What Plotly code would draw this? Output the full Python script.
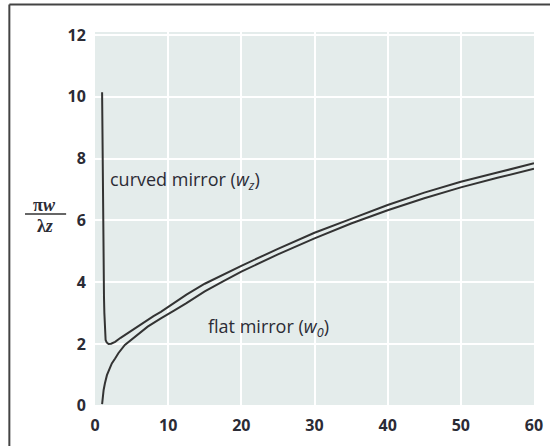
import plotly.graph_objects as go

# Curved mirror (w_z) readings
curved_x = [0.97, 1.0, 1.03, 1.07, 1.1, 1.13, 1.18, 1.23, 1.28, 1.32, 1.37, 1.45, 1.6, 1.85, 2.2, 2.75,
            3.5, 4.5, 5.5, 6.75, 8, 9, 10, 12.5, 15, 17.5, 20, 25, 30, 35, 40, 45, 50, 55, 60]
curved_y = [10.15, 9.0, 8.0, 7.0, 6.0, 5.0, 4.2, 3.5, 3.0, 2.6, 2.3, 2.13, 2.05, 2.0, 2.01, 2.07,
            2.2, 2.36, 2.52, 2.72, 2.9, 3.04, 3.2, 3.6, 3.95, 4.25, 4.53, 5.08, 5.6, 6.05, 6.5, 6.9, 7.25, 7.55, 7.85]

# Flat mirror (w_0) readings
flat_x = [0.97, 1.05, 1.18, 1.35, 1.63, 2.0, 2.3, 2.75, 3.19, 4.08, 5.42, 7.2, 9, 10, 10.8,
          12.5, 15, 17.5, 20, 25, 30, 35, 40, 45, 50, 55, 60]
flat_y = [0.05, 0.25, 0.51, 0.72, 0.99, 1.2, 1.37, 1.53, 1.70, 1.97, 2.23, 2.56, 2.83, 2.96, 3.08,
          3.32, 3.7, 4.03, 4.34, 4.9, 5.42, 5.9, 6.33, 6.72, 7.07, 7.38, 7.67]

x_ticks = [0, 10, 20, 30, 40, 50, 60]
y_ticks = [0, 2, 4, 6, 8, 10, 12]

label_curved = "curved mirror (<i>w<sub>z</sub></i>)"
label_flat = "flat mirror (<i>w<sub>0</sub></i>)"

line_color = "#333333"
text_color = "#2b2b35"

fig = go.Figure()
fig.add_trace(go.Scatter(x=curved_x, y=curved_y, mode="lines",
                         line=dict(color=line_color, width=2),
                         hoverinfo="skip", showlegend=False))
fig.add_trace(go.Scatter(x=flat_x, y=flat_y, mode="lines",
                         line=dict(color=line_color, width=2),
                         hoverinfo="skip", showlegend=False))

tickfont = dict(family="Open Sans, Noto Sans, sans-serif", size=16, color=text_color, weight="bold")

fig.update_layout(
    width=550, height=446,
    margin=dict(l=94.5, r=7, t=32, b=39),
    paper_bgcolor="white",
    plot_bgcolor="#e4eceb",
    showlegend=False,
    xaxis=dict(range=[0, 60], tickvals=x_ticks, showgrid=True, gridcolor="white", gridwidth=2,
               zeroline=False, showline=False, ticks="outside", ticklen=4,
               tickcolor="rgba(0,0,0,0)", tickfont=tickfont, ticklabeloverflow="allow"),
    yaxis=dict(range=[-0.04, 12.1], tickvals=y_ticks, showgrid=True, gridcolor="white", gridwidth=2,
               zeroline=False, showline=False, ticks="outside", ticklen=5,
               tickcolor="rgba(0,0,0,0)", tickfont=tickfont, ticklabeloverflow="allow"),
)

ann_font = dict(family="Open Sans, Noto Sans, sans-serif", size=18, color=text_color)
fig.add_annotation(x=1.8, y=7.3, text=label_curved, showarrow=False, xanchor="left",
                   yanchor="middle", font=ann_font)
fig.add_annotation(x=15.2, y=2.55, text=label_flat, showarrow=False, xanchor="left",
                   yanchor="middle", font=ann_font)

# y-axis fraction label
yfont = dict(family="Liberation Serif, DejaVu Serif, serif", size=18, color=text_color, weight="bold")
fig.add_annotation(xref="paper", yref="paper", x=-0.1148, y=0.5387, text="<b>π<i>w</i></b>",
                   showarrow=False, xanchor="center", yanchor="middle", font=yfont)
fig.add_annotation(xref="paper", yref="paper", x=-0.1148, y=0.4827, text="<b>λ<i>z</i></b>",
                   showarrow=False, xanchor="center", yanchor="middle", font=yfont)
fig.add_shape(type="line", xref="paper", yref="paper", x0=-0.1594, x1=-0.0658, y0=0.5147, y1=0.5147,
              line=dict(color="#333333", width=1.5))

# outer frame (left and top edges)
fig.add_shape(type="line", xref="paper", yref="paper", x0=-0.1951, x1=-0.1951, y0=-0.2, y1=1.0733,
              line=dict(color="#444444", width=2))
fig.add_shape(type="line", xref="paper", yref="paper", x0=-0.1951, x1=1.1, y0=1.0733, y1=1.0733,
              line=dict(color="#444444", width=2))

fig.write_html("out.html", config={"displayModeBar": False},
               post_script="document.body.style.margin='0';")
